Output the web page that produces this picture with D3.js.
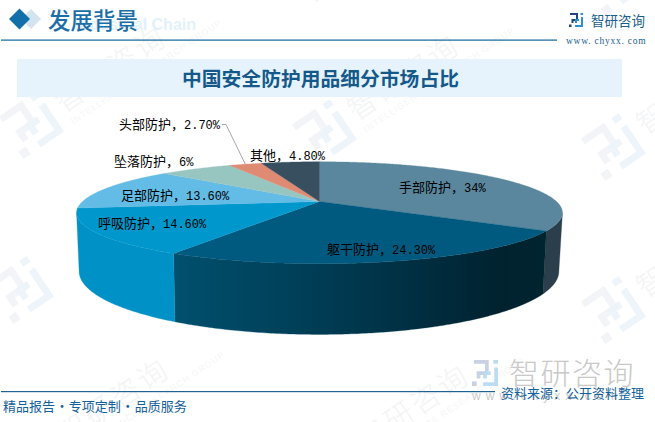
<!DOCTYPE html>
<html><head><meta charset="utf-8">
<script src="https://cdn.jsdelivr.net/npm/d3@7"></script>
<style>html,body{margin:0;padding:0;background:#fff}svg{display:block}</style>
</head><body><svg id="c" width="655" height="422"></svg>
<script>
const categories=["手部防护","躯干防护","呼吸防护","足部防护","坠落防护","头部防护","其他"];
const values=[34,24.3,14.6,13.6,6,2.7,4.8];
const valueLabels=["34%","24.30%","14.60%","13.60%","6%","2.70%","4.80%"];
const topColors=["#5a879d","#005a7f","#0098cc","#63bce5","#97c6c1","#df8a73","#374f5f"];
const labelX=[399,327,98,121,114,119,250];
const labelY=[187,249,223,195,161,124,155];

const svg=d3.select("#c");
const defs=svg.append("defs");
const CJK="'Noto Sans CJK SC',sans-serif";

// projection of the tilted disc
const tilt=0.22;
const topX=d3.scaleLinear().domain([-1,1]).range([319.5-237,319.5+237]);
const topY=d3.scaleLinear().domain([-1,1]).range([201.5-48.5,201.5+48.5]);
const baseX=d3.scaleLinear().domain([-1,1]).range([319-234,319+234]);
const baseY=d3.scaleLinear().domain([-1,1]).range([257.5-60,257.5+60]);
function proj(a,sx,sy){
  const u=Math.sin(a),v=-Math.cos(a),w=1-tilt*v;
  return [sx(u/w),sy(v/w)];
}
const pie=d3.pie().sort(null).value(d=>d)(values);
const line=d3.line();
const sample=(a0,a1)=>{
  const n=Math.max(2,Math.ceil(Math.abs(a1-a0)/0.01));
  return d3.range(n+1).map(i=>a0+(a1-a0)*i/n);
};

// ---- watermarks
const wm=svg.append("g");
const wmSpots=[[30,125,"智研咨询"],[323,133,"智研咨询"],[612,147,"智"],[20,290,""],[323,300,""],[612,310,"智"],[33,457,"智研咨询"],[333,463,"智研咨询"],[323,-32,""],[612,-18,""]];
function mark(g,a,b){
  g.append("path").attr("d","M2,2H16V14H7V20").attr("fill","none").attr("stroke",a).attr("stroke-width",4);
  g.append("rect").attr("x",0).attr("y",23).attr("width",5).attr("height",5).attr("fill",a);
  g.append("path").attr("d","M20,14H14V20 M12,26H26V8").attr("fill","none").attr("stroke",b).attr("stroke-width",4);
  g.append("rect").attr("x",23).attr("y",0).attr("width",5).attr("height",4).attr("fill",b);
}
wmSpots.forEach(([x,y,label])=>{
  const g=wm.append("g").attr("transform",`translate(${x},${y}) rotate(-34)`);
  mark(g.append("g").attr("transform","scale(1.75) translate(-14,-14)"),"#f3f4f8","#edf5fb");
  if(label){
    g.append("text").attr("x",34).attr("y",9).attr("font-family",CJK).attr("font-size",29).attr("font-weight",300)
      .attr("letter-spacing",3).attr("fill","#f3f4f5").text(label);
    if(label.length>1) g.append("text").attr("x",36).attr("y",24).attr("font-family","'Liberation Sans',sans-serif").attr("font-size",9)
      .attr("letter-spacing",1).attr("fill","#f5f6f7").text("INTELLIGENCE RESEARCH GROUP");
  }
});

// ---- header
svg.append("text").attr("x",196).attr("y",30).attr("text-anchor","end").attr("font-family","'Liberation Sans',sans-serif")
  .attr("font-weight","bold").attr("font-size",16).attr("fill","#e3f1fb").text("Industrial Chain");
const diamond=(cx,cy,r)=>`M${cx-r},${cy}L${cx},${cy-r}L${cx+r},${cy}L${cx},${cy+r}Z`;
svg.append("path").attr("d",diamond(31,19,10)).attr("fill","#d3e4ef");
svg.append("path").attr("d",diamond(19.5,19,10.5)).attr("fill","#136fa9");
svg.append("text").attr("x",48).attr("y",28.5).attr("font-family",CJK).attr("font-size",22.5).attr("font-weight",500)
  .attr("fill","#1b6ea8").text("发展背景");
svg.append("rect").attr("x",1).attr("y",39.5).attr("width",556).attr("height",1.2).attr("fill","#11659c");
mark(svg.append("g").attr("transform","translate(569,13) scale(.5)"),"#27417f","#2a8fd6");
svg.append("text").attr("x",591).attr("y",25.5).attr("font-family",CJK).attr("font-size",13.5).attr("fill","#1a5f8c").text("智研咨询");
svg.append("text").attr("x",566).attr("y",44).attr("font-family","'Liberation Serif',serif").attr("font-size",9.5)
  .attr("letter-spacing",.75).attr("fill","#1c6090").text("www. chyxx. com");

// ---- title band
svg.append("rect").attr("x",17).attr("y",59).attr("width",605).attr("height",38).attr("fill","#e6f3fc");
svg.append("text").attr("x",320.5).attr("y",85.5).attr("text-anchor","middle").attr("font-family",CJK)
  .attr("font-size",19.8).attr("font-weight",700).attr("fill","#14598a").text("中国安全防护用品细分市场占比");

// ---- rims
const pieLeft=173,pieRight=546;
const grad=(id,stops)=>{
  const g=defs.append("linearGradient").attr("id",id).attr("gradientUnits","userSpaceOnUse")
    .attr("x1",pieLeft).attr("x2",pieRight).attr("y1",0).attr("y2",0);
  stops.forEach(([o,c])=>g.append("stop").attr("offset",o).attr("stop-color",c));
  return `url(#${id})`;
};
const rimFill=[ "#2a3f4b",
  grad("rimB",[[0,"#00506e"],[.4,"#003c54"],[.88,"#00222f"],[1,"#00252f"]]),
  "#0092c6"];
// silhouette of the disc on the screen: only the near part of the side shows
const vis0=Math.acos(-0.219), vis1=2*Math.PI-vis0;
const rims=svg.append("g");
pie.forEach((d,i)=>{
  const a0=Math.max(d.startAngle,vis0),a1=Math.min(d.endAngle,vis1);
  if(a1<=a0) return;
  const s=sample(a0,a1);
  const pts=s.map(a=>proj(a,topX,topY)).concat(s.slice().reverse().map(a=>proj(a,baseX,baseY)));
  rims.append("path").attr("d",line(pts)+"Z").attr("fill",rimFill[i]).attr("stroke",rimFill[i]).attr("stroke-width",.3);
});

// ---- top
const tops=svg.append("g");
pie.forEach((d,i)=>{
  const pts=[[topX(0),topY(0)]].concat(sample(d.startAngle,d.endAngle).map(a=>proj(a,topX,topY)));
  tops.append("path").attr("d",line(pts)+"Z").attr("fill",topColors[i]).attr("stroke",topColors[i]).attr("stroke-width",.3);
});

// ---- leader for the small slice
const hi=categories.indexOf("头部防护");
const tip=proj((pie[hi].startAngle+pie[hi].endAngle)/2,topX,topY);
svg.append("path").attr("d",line([[222,labelY[hi]+.5],[226,labelY[hi]+.5],tip])).attr("fill","none")
  .attr("stroke","#a6a6a6").attr("stroke-width",1);

// ---- labels
categories.forEach((c,i)=>{
  const t=svg.append("text").attr("x",labelX[i]).attr("y",labelY[i]+4.5).attr("fill","#000");
  t.append("tspan").attr("font-family",CJK).attr("font-size",13).text(c+"\uFF0C");
  t.append("tspan").attr("font-family","'Liberation Mono',monospace").attr("font-size",12).text(valueLabels[i]);
});

// ---- bottom brand + footer
mark(svg.append("g").attr("transform","translate(472,360) scale(.93)"),"#c9d2e4","#bcdcf2");
svg.append("text").attr("x",509).attr("y",384).attr("font-family",CJK).attr("font-size",30).attr("font-weight",300)
  .attr("letter-spacing",1.5).attr("fill","#c9c9c9").text("智研咨询");
svg.append("text").attr("x",472).attr("y",400).attr("font-family","'Liberation Sans',sans-serif").attr("font-size",12)
  .attr("letter-spacing",5).attr("fill","#c9c9c9").text("www.chyxx.com");
svg.append("rect").attr("x",1).attr("y",391).attr("width",494).attr("height",1.2).attr("fill","#1f6290");
svg.append("text").attr("x",501).attr("y",398).attr("font-family",CJK).attr("font-size",13).attr("fill","#14609a").text("资料来源\uFF1A公开资料整理");
svg.append("text").attr("x",3).attr("y",411).attr("font-family",CJK).attr("font-size",13).attr("word-spacing",-2.5).attr("fill","#14609a").text("精品报告 · 专项定制 · 品质服务");
</script></body></html>
